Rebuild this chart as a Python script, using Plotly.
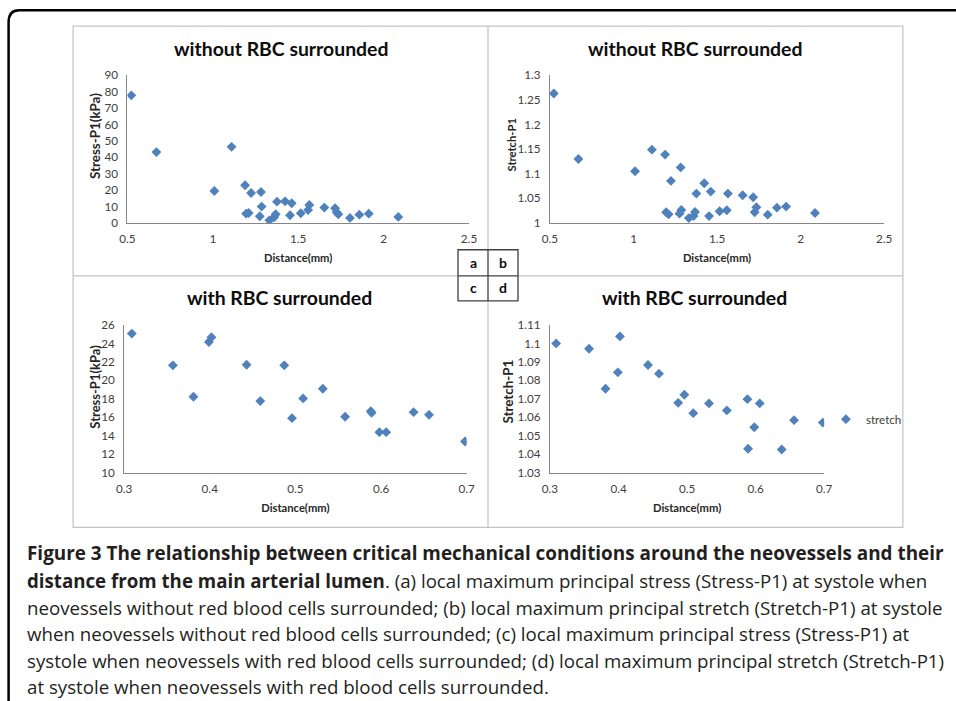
import plotly.graph_objects as go
from plotly.subplots import make_subplots

# ---------------- data ----------------
dist_ab = [0.523, 0.67, 1.009, 1.11, 1.189, 1.195, 1.21, 1.224, 1.275, 1.282, 1.286, 1.331,
           1.359, 1.368, 1.376, 1.423, 1.452, 1.462, 1.515, 1.558, 1.565, 1.653, 1.716,
           1.725, 1.735, 1.803, 1.858, 1.913, 2.086]
stress_a = [77.8, 43.2, 19.5, 46.4, 23.0, 5.7, 6.1, 18.3, 4.1, 18.9, 10.0, 1.6,
            3.5, 5.3, 13.0, 13.2, 4.7, 12.0, 5.9, 7.9, 11.0, 9.4, 9.0,
            6.5, 5.3, 3.1, 5.1, 5.7, 3.7]
stretch_b = [1.263, 1.130, 1.105, 1.149, 1.139, 1.0217, 1.0176, 1.0855, 1.019, 1.113, 1.0265, 1.010,
             1.014, 1.0224, 1.0597, 1.0808, 1.014, 1.0638, 1.0238, 1.0258, 1.0597, 1.0563, 1.0523,
             1.0217, 1.0319, 1.017, 1.0312, 1.0333, 1.0204]

dist_cd = [0.309, 0.357, 0.381, 0.399, 0.402, 0.443, 0.459, 0.487, 0.496, 0.509, 0.532,
           0.558, 0.588, 0.589, 0.598, 0.606, 0.638, 0.656, 0.698]
stress_c = [25.06, 21.62, 18.22, 24.15, 24.66, 21.69, 17.75, 21.62, 15.90, 18.04, 19.09,
            16.05, 16.66, 16.48, 14.38, 14.38, 16.55, 16.26, 13.37]
stretch_d = [1.1000, 1.0971, 1.0754, 1.0843, 1.1038, 1.0883, 1.0836, 1.0678, 1.0722, 1.0622, 1.0675,
             1.0637, 1.0698, 1.0429, 1.0546, 1.0675, 1.0425, 1.0584, 1.0571]

panel_titles = ["without RBC surrounded", "without RBC surrounded",
                "with RBC surrounded", "with RBC surrounded"]
x_title = "Distance(mm)"
y_titles = ["Stress-P1(kPa)", "Stretch-P1", "Stress-P1(kPa)", "Stretch-P1"]
legend_name = "stretch"
box_letters = ["a", "b", "c", "d"]

caption_lines = [
    "<b>Figure 3 The relationship between critical mechanical conditions around the neovessels and their</b>",
    "<b>distance from the main arterial lumen</b>. (a) local maximum principal stress (Stress-P1) at systole when",
    "neovessels without red blood cells surrounded; (b) local maximum principal stretch (Stretch-P1) at systole",
    "when neovessels without red blood cells surrounded; (c) local maximum principal stress (Stress-P1) at",
    "systole when neovessels with red blood cells surrounded; (d) local maximum principal stretch (Stretch-P1)",
    "at systole when neovessels with red blood cells surrounded.",
]

# ---------------- layout helpers ----------------
# target pixel coordinates (T) are mapped to figure coordinates, compensating for the
# 8px page margin and the scaling observed in the rendered page
W, H = 956, 701
SX, SY = 972 / 956, 717 / 701
OFF = 8
def fx(t):
    return (t * SX - OFF) / W
def fy(t):
    return 1 - (t * SY - OFF) / H

MARK = "#4F81BD"
AXC = "#868686"
TICKC = "#404040"
FONT = "Lato"

fig = make_subplots(rows=2, cols=2)

doms = {
    "a": ([127.3, 469.0], [222.3, 75.0]),
    "b": ([550.0, 884.3], [222.3, 75.0]),
    "c": ([124.0, 466.7], [471.3, 324.0]),
    "d": ([550.0, 824.3], [471.3, 324.0]),
}
ranges = {
    "a": ([0.5, 2.5], [0, 90], 0.5, 10),
    "b": ([0.5, 2.5], [1, 1.3], 0.5, 0.05),
    "c": ([0.3, 0.7], [10, 26], 0.1, 2),
    "d": ([0.3, 0.7], [1.03, 1.11], 0.1, 0.01),
}
series = {
    "a": (dist_ab, stress_a),
    "b": (dist_ab, stretch_b),
    "c": (dist_cd, stress_c),
    "d": (dist_cd, stretch_d),
}
pos = {"a": (1, 1), "b": (1, 2), "c": (2, 1), "d": (2, 2)}

for i, k in enumerate(["a", "b", "c", "d"]):
    r, c = pos[k]
    xs, ys = series[k]
    fig.add_trace(go.Scatter(
        x=xs, y=ys, mode="markers", name=legend_name,
        marker=dict(symbol="diamond", size=7.6, color=MARK, line=dict(width=0)),
        showlegend=(k == "d"), hoverinfo="skip"), row=r, col=c)
    (xd, yd) = doms[k]
    xr, yr, dx, dy = ranges[k]
    fig.update_xaxes(domain=[fx(xd[0]), fx(xd[1])], range=xr, dtick=dx, tick0=xr[0],
                     showgrid=False, zeroline=False, showline=True, linecolor=AXC, linewidth=1,
                     ticks="", ticklabelstandoff=5,
                     tickfont=dict(family=FONT, size=11.7, color=TICKC),
                     title=dict(text="<b>" + x_title + "</b>", font=dict(family=FONT, size=11.2, color="#262626"),
                                standoff=10),
                     row=r, col=c)
    fig.update_yaxes(domain=[fy(yd[0]), fy(yd[1])], range=yr, dtick=dy, tick0=yr[0],
                     showgrid=False, zeroline=False, showline=True, linecolor=AXC, linewidth=1,
                     ticks="", ticklabelstandoff=6,
                     tickfont=dict(family=FONT, size=11.7, color=TICKC),
                     row=r, col=c)

shapes = []
shapes.append(dict(type="path", xref="paper", yref="paper",
                   path=f"M {0.6 / W},{fy(720)} L {0.6 / W},{fy(22)} Q {0.6 / W},{fy(10)} {fx(19)},{fy(10)} L {fx(970)},{fy(10)}",
                   line=dict(color="black", width=2.5)))
GR = "#C3C3C3"
shapes.append(dict(type="rect", xref="paper", yref="paper", x0=fx(73), x1=fx(903), y0=fy(526), y1=fy(26),
                   line=dict(color=GR, width=1.2)))
shapes.append(dict(type="line", xref="paper", yref="paper", x0=fx(488), x1=fx(488), y0=fy(526), y1=fy(26),
                   line=dict(color=GR, width=1.2)))
shapes.append(dict(type="line", xref="paper", yref="paper", x0=fx(73), x1=fx(903), y0=fy(275), y1=fy(275),
                   line=dict(color=GR, width=1.2)))
BX = "#404040"
shapes.append(dict(type="rect", xref="paper", yref="paper", x0=fx(458), x1=fx(518), y0=fy(300), y1=fy(249),
                   line=dict(color=BX, width=1.3), fillcolor="white"))
shapes.append(dict(type="line", xref="paper", yref="paper", x0=fx(488), x1=fx(488), y0=fy(300), y1=fy(249),
                   line=dict(color=BX, width=1.3)))
shapes.append(dict(type="line", xref="paper", yref="paper", x0=fx(458), x1=fx(518), y0=fy(275), y1=fy(275),
                   line=dict(color=BX, width=1.3)))

annotations = []
title_pos = [(281, 48), (695, 48), (279, 297), (695, 297)]
for t, (px, py) in zip(panel_titles, title_pos):
    annotations.append(dict(text="<b>" + t + "</b>", x=fx(px), y=fy(py), xref="paper", yref="paper",
                            xanchor="center", yanchor="middle", showarrow=False,
                            font=dict(family=FONT, size=19.4, color="#0d0d0d")))
# y-axis titles
ytitle_pos = [(95.5, 136, 13.4), (512, 144, 11.2), (94.5, 386, 13.0), (508.5, 390, 13.4)]
for t, (px, py, fs) in zip(y_titles, ytitle_pos):
    annotations.append(dict(text="<b>" + t + "</b>", x=fx(px), y=fy(py), xref="paper", yref="paper",
                            xanchor="center", yanchor="middle", showarrow=False, textangle=-90,
                            font=dict(family=FONT, size=fs, color="#262626")))
letter_pos = [(473, 262), (503, 262), (473, 287), (503, 287)]
for t, (px, py) in zip(box_letters, letter_pos):
    annotations.append(dict(text="<b>" + t + "</b>", x=fx(px), y=fy(py), xref="paper", yref="paper",
                            xanchor="center", yanchor="middle", showarrow=False,
                            font=dict(family=FONT, size=14, color="#0d0d0d")))
cap_y = [552, 579, 606, 632, 659, 685]
cap_size = [18.9, 18.7, 18.7, 18.7, 18.7, 18.7]
for t, py, fs in zip(caption_lines, cap_y, cap_size):
    annotations.append(dict(text=t, x=fx(25), y=fy(py), xref="paper", yref="paper",
                            xanchor="left", yanchor="middle", showarrow=False,
                            font=dict(family="Open Sans", size=fs, color="#231f20")))

fig.update_layout(
    width=W, height=H, margin=dict(l=0, r=0, t=0, b=0),
    paper_bgcolor="white", plot_bgcolor="rgba(0,0,0,0)",
    shapes=shapes, annotations=annotations,
    legend=dict(x=fx(826), y=fy(418), xanchor="left", yanchor="middle",
                font=dict(family=FONT, size=11.6, color="#404040"), bgcolor="rgba(0,0,0,0)",
                itemwidth=30),
)

fig.write_html("out.html")
